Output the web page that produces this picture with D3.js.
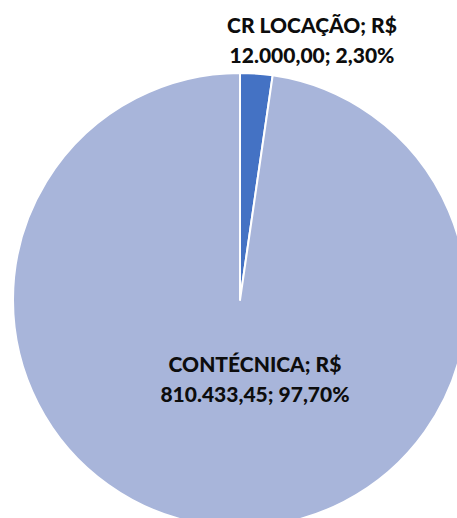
<!DOCTYPE html>
<html>
<head>
<meta charset="utf-8">
<script src="https://cdn.jsdelivr.net/npm/d3@7"></script>
<style>
  html, body { margin: 0; padding: 0; background: #fff; overflow: hidden; }
</style>
</head>
<body>
<svg id="pie_svg"></svg>
<script>
const names = ["CR LOCAÇÃO", "CONTÉCNICA"];
const percents = [2.30, 97.70];
const amountLabels = ["12.000,00", "810.433,45"];
const percentLabels = ["2,30%", "97,70%"];

const colors = d3.scaleOrdinal().domain(names).range(["#4472C4", "#A8B5DA"]);

const width = 457;
const height = 518;
const cx = 240;
const cy = 300;
const radius = 227;

const svg = d3.select("#pie_svg").attr("width", width).attr("height", height);

const data = names.map((n, i) => ({ name: n, value: percents[i], amount: amountLabels[i], pct: percentLabels[i] }));
const pie = d3.pie().sort(null).value((d) => d.value);
const arc = d3.arc().innerRadius(0).outerRadius(radius);

const g = svg.append("g").attr("transform", `translate(${cx},${cy})`);

g.selectAll("path")
  .data(pie(data))
  .enter()
  .append("path")
  .attr("d", arc)
  .attr("fill", (d) => colors(d.data.name))
  .attr("stroke", "#fff")
  .attr("stroke-width", 2)
  .attr("stroke-linejoin", "round");

// label anchors (Excel-style placement): small slice outside, big one inside
const labelPos = [
  { x: 72, y: -267 },
  { x: 15, y: 72 }
];

const labels = g.selectAll("text.lbl")
  .data(data)
  .enter()
  .append("text")
  .attr("class", "lbl")
  .attr("text-anchor", "middle")
  .style("font-family", "Lato, 'Open Sans', sans-serif")
  .style("font-weight", "900")
  .style("font-size", "21px")
  .style("fill", "#0d0d0d");

labels.append("tspan")
  .attr("x", (d, i) => labelPos[i].x)
  .attr("y", (d, i) => labelPos[i].y)
  .text((d) => `${d.name}; R$`);

labels.append("tspan")
  .attr("x", (d, i) => labelPos[i].x)
  .attr("y", (d, i) => labelPos[i].y + 30)
  .text((d) => `${d.amount}; ${d.pct}`);
</script>
</body>
</html>
